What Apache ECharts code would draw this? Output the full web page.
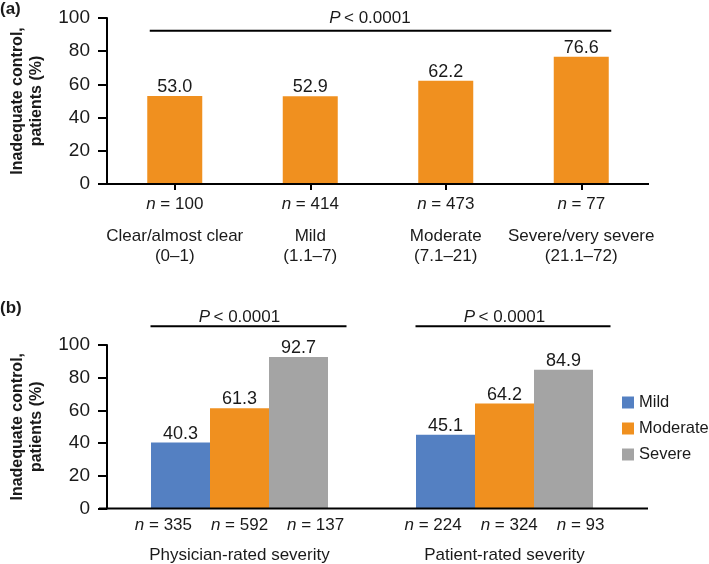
<!DOCTYPE html>
<html><head><meta charset="utf-8">
<script src="https://cdn.jsdelivr.net/npm/echarts@6.0.0/dist/echarts.min.js"></script>
<style>html,body{margin:0;padding:0;background:#fff}#c{width:709px;height:564px}</style>
</head><body><div id="c"></div>
<script>
// ---- data ----
const catsA = ['Clear/almost clear', 'Mild', 'Moderate', 'Severe/very severe'];
const rangesA = ['(0–1)', '(1.1–7)', '(7.1–21)', '(21.1–72)'];
const nA = [100, 414, 473, 77];
const valuesA = [53.0, 52.9, 62.2, 76.6];

const catsB = ['Physician-rated severity', 'Patient-rated severity'];
const seriesNamesB = ['Mild', 'Moderate', 'Severe'];
const mildB = [40.3, 45.1];
const moderateB = [61.3, 64.2];
const severeB = [92.7, 84.9];
const nB = [[335, 592, 137], [224, 324, 93]];

const yMin = 0, yMax = 100, yStep = 20;
const pLabel = '< 0.0001';
const yTitle = 'Inadequate control,\npatients (%)';

// ---- style ----
const FONT = 'Liberation Sans, Arial, Helvetica, sans-serif';
const TXT = '#1a1a1a';
const ORANGE = '#F0901F', BLUE = '#5480C2', GRAY = '#A4A4A4';

const chart = echarts.init(document.getElementById('c'), null, {renderer: 'canvas'});

function yAxis(gi) {
  return {
    type: 'value', gridIndex: gi, min: yMin, max: yMax, interval: yStep,
    name: yTitle, nameLocation: 'middle', nameGap: 61, nameRotate: 90,
    nameTextStyle: {fontFamily: FONT, fontSize: 16, fontWeight: 'bold', color: TXT, lineHeight: 19},
    axisLine: {show: true, lineStyle: {color: '#000', width: 2}},
    axisTick: {show: true, length: 9, lineStyle: {color: '#000', width: 2}},
    splitLine: {show: false},
    axisLabel: {fontFamily: FONT, fontSize: 19, color: TXT, margin: 17}
  };
}

const richBase = {
  n: {fontFamily: FONT, fontSize: 17, fontStyle: 'italic', color: TXT, lineHeight: 20},
  t: {fontFamily: FONT, fontSize: 17, color: TXT, lineHeight: 20},
  c: {fontFamily: FONT, fontSize: 17, color: TXT, lineHeight: 20}
};

const valLabel = {
  show: true, position: 'top', distance: 0,
  fontFamily: FONT, fontSize: 18, color: TXT,
  formatter: p => p.value.toFixed(1)
};

const option = {
  animation: false,
  backgroundColor: '#fff',
  grid: [
    {left: 100, top: 18, width: 549, height: 166},
    {left: 101, top: 345, width: 536, height: 166}
  ],
  xAxis: [
    {
      type: 'category', gridIndex: 0, data: catsA,
      axisLine: {show: false},
      axisTick: {show: true, alignWithLabel: true, length: 6, lineStyle: {color: '#000', width: 2}},
      axisLabel: {
        interval: 0, margin: 10,
        formatter: (v, i) => `{n|n}{t| = ${nA[i]}}\n{g| }\n{c|${v}}\n{c|${rangesA[i]}}`,
        rich: Object.assign({g: {fontSize: 4, lineHeight: 12}}, richBase)
      }
    },
    {
      type: 'category', gridIndex: 1, data: catsB,
      axisLine: {show: false}, axisTick: {show: false},
      axisLabel: {
        interval: 0, margin: 7,
        formatter: (v, i) => nB[i].map(n => `{n|n}{t| = ${n}}`).join('{t|    }') + `\n{g| }\n{c|${v}}`,
        rich: Object.assign({g: {fontSize: 4, lineHeight: 10}}, richBase)
      }
    }
  ],
  yAxis: [yAxis(0), yAxis(1)],
  legend: {
    data: seriesNamesB, orient: 'vertical', left: 617, top: 389,
    itemWidth: 12, itemHeight: 12, itemGap: 9, icon: 'rect',
    textStyle: {fontFamily: FONT, fontSize: 16.5, color: TXT}
  },
  series: [
    {type: 'bar', name: 'Inadequate control', xAxisIndex: 0, yAxisIndex: 0, data: valuesA,
     barWidth: 55, itemStyle: {color: ORANGE}, label: valLabel},
    {type: 'bar', name: seriesNamesB[0], xAxisIndex: 1, yAxisIndex: 1, data: mildB,
     barWidth: 59, barGap: '0%', itemStyle: {color: BLUE}, label: valLabel},
    {type: 'bar', name: seriesNamesB[1], xAxisIndex: 1, yAxisIndex: 1, data: moderateB,
     barWidth: 59, barGap: '0%', itemStyle: {color: ORANGE}, label: valLabel},
    {type: 'bar', name: seriesNamesB[2], xAxisIndex: 1, yAxisIndex: 1, data: severeB,
     barWidth: 59, barGap: '0%', itemStyle: {color: GRAY}, label: valLabel}
  ]
};
chart.setOption(option);

// ---- annotations positioned through the chart's own scales ----
const px = (xi, v) => chart.convertToPixel({xAxisIndex: xi}, v);
const py = (yi, v) => chart.convertToPixel({yAxisIndex: yi}, v);

const a0 = px(0, catsA[0]), a1 = px(0, catsA[1]), a3 = px(0, catsA[3]);
const bandA = a1 - a0, axisXA = a0 - bandA / 2;
const b0 = px(1, catsB[0]), b1 = px(1, catsB[1]);
const bandB = b1 - b0, axisXB = b0 - bandB / 2;

function line(x1, y, x2) {
  return {type: 'line', shape: {x1, y1: y, x2, y2: y}, style: {stroke: '#000', lineWidth: 2}, z: 10};
}
function ptext(x, y) {
  return {type: 'text', x, y, z: 10, style: {
    text: '{p|P} {q|' + pLabel + '}', align: 'center', verticalAlign: 'middle',
    rich: {p: {fontFamily: FONT, fontSize: 17, fontStyle: 'italic', fill: TXT},
           q: {fontFamily: FONT, fontSize: 17, fill: TXT}}
  }};
}
function ltext(s, x, y) {
  return {type: 'text', x, y, z: 10, style: {text: s, fontFamily: FONT, fontSize: 17, fontWeight: 'bold', fill: TXT, verticalAlign: 'middle'}};
}

const graphics = [
  // x-axis baselines
  line(axisXA - 8, py(0, 0), axisXA + 542),
  line(axisXB - 8, py(1, 0), axisXB + 541),
  // panel a bracket
  line(a0 - 25, py(0, 92.3), a3 + 30),
  ptext((a0 + a3) / 2 - 8, py(0, 99.6)),
  // panel b brackets
  line(b0 - 89, py(1, 111.4), b0 + 107),
  ptext(b0, py(1, 117)),
  line(b1 - 89, py(1, 111.4), b1 + 106),
  ptext(b1, py(1, 117)),
  // panel letters
  ltext('(a)', 0, 9),
  ltext('(b)', 0, 308)
];
chart.setOption({graphic: graphics});
</script>
</body></html>
